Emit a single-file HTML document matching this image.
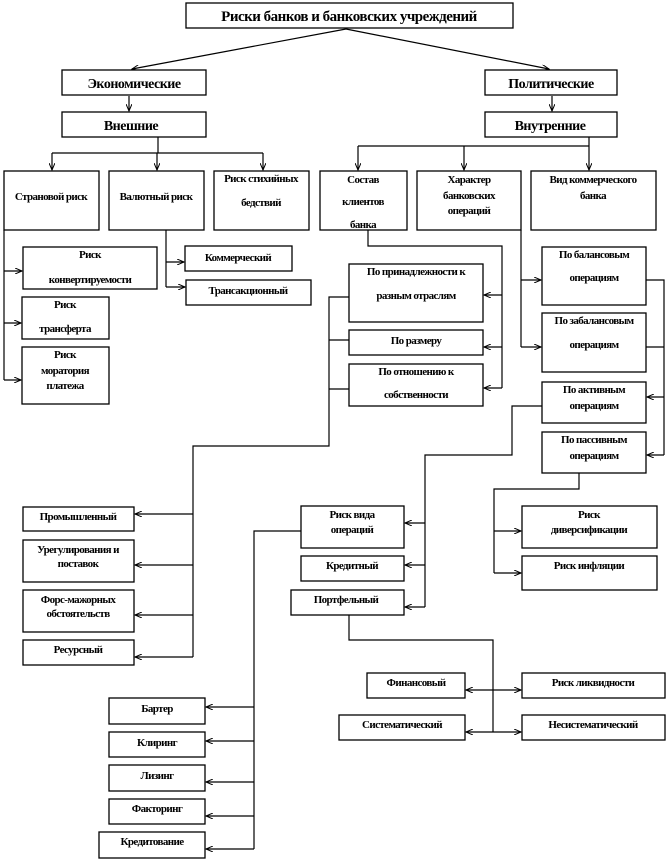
<!DOCTYPE html>
<html><head><meta charset="utf-8"><style>
html,body{margin:0;padding:0;background:#fff;}
svg{display:block}
text{font-family:"Liberation Serif","DejaVu Serif",serif;font-weight:bold;font-size:11px;fill:#000;text-anchor:middle;letter-spacing:-0.6px}
.b{font-size:14px;letter-spacing:-0.5px}
rect{fill:#fff;stroke:#000;stroke-width:1.3}
line,polyline{stroke:#000;stroke-width:1.2;fill:none}
</style></head><body>
<svg width="669" height="861" viewBox="0 0 669 861" xmlns="http://www.w3.org/2000/svg">
<defs><marker id="a" markerWidth="8" markerHeight="6" refX="7" refY="3" orient="auto" markerUnits="userSpaceOnUse"><path d="M0,0 L7,3 L0,6" fill="none" stroke="#000" stroke-width="1"/></marker></defs>

<!-- top -->
<rect x="186" y="3" width="327" height="25"/>
<text class="b" x="349" y="21" style="font-size:15px">Риски банков и банковских учреждений</text>
<line x1="346" y1="29" x2="132" y2="69" marker-end="url(#a)"/>
<line x1="346" y1="29" x2="549" y2="69" marker-end="url(#a)"/>
<rect x="62" y="70" width="144" height="25"/><text class="b" x="134" y="88">Экономические</text>
<rect x="485" y="70" width="132" height="25"/><text class="b" x="551" y="88">Политические</text>
<line x1="129" y1="96" x2="129" y2="111" marker-end="url(#a)"/>
<line x1="552" y1="96" x2="552" y2="111" marker-end="url(#a)"/>
<rect x="62" y="112" width="144" height="25"/><text class="b" x="131" y="130">Внешние</text>
<rect x="485" y="112" width="132" height="25"/><text class="b" x="550" y="130">Внутренние</text>

<!-- external branches -->
<polyline points="158,137 158,153"/>
<line x1="52" y1="153" x2="263" y2="153"/>
<line x1="52" y1="153" x2="52" y2="170" marker-end="url(#a)"/>
<line x1="157" y1="153" x2="157" y2="170" marker-end="url(#a)"/>
<line x1="263" y1="153" x2="263" y2="170" marker-end="url(#a)"/>
<rect x="4" y="171" width="95" height="59"/><text x="51" y="200">Страновой риск</text>
<rect x="109" y="171" width="95" height="59"/><text x="156" y="200">Валютный риск</text>
<rect x="214" y="171" width="95" height="59"/><text x="261" y="182">Риск стихийных</text><text x="261" y="206">бедствий</text>

<!-- internal branches -->
<polyline points="589,137 589,146"/>
<line x1="358" y1="146" x2="589" y2="146"/>
<line x1="358" y1="146" x2="358" y2="170" marker-end="url(#a)"/>
<line x1="464" y1="146" x2="464" y2="170" marker-end="url(#a)"/>
<line x1="589" y1="146" x2="589" y2="170" marker-end="url(#a)"/>
<rect x="320" y="171" width="87" height="59"/><text x="363" y="183">Состав</text><text x="363" y="205">клиентов</text><text x="363" y="228">банка</text>
<rect x="417" y="171" width="104" height="59"/><text x="469" y="183">Характер</text><text x="469" y="199">банковских</text><text x="469" y="214">операций</text>
<rect x="531" y="171" width="125" height="59"/><text x="593" y="183">Вид коммерческого</text><text x="593" y="199">банка</text>

<!-- Страновой children -->
<polyline points="4,230 4,380"/>
<line x1="4" y1="271" x2="22" y2="271" marker-end="url(#a)"/>
<line x1="4" y1="323" x2="21" y2="323" marker-end="url(#a)"/>
<line x1="4" y1="380" x2="21" y2="380" marker-end="url(#a)"/>
<rect x="23" y="247" width="134" height="42"/><text x="90" y="258">Риск</text><text x="90" y="283">конвертируемости</text>
<rect x="22" y="297" width="87" height="42"/><text x="65" y="308">Риск</text><text x="65" y="332">трансферта</text>
<rect x="22" y="347" width="87" height="57"/><text x="65" y="358">Риск</text><text x="65" y="374">моратория</text><text x="65" y="389">платежа</text>

<!-- Валютный children -->
<polyline points="166,230 166,287"/>
<line x1="166" y1="262" x2="184" y2="262" marker-end="url(#a)"/>
<line x1="166" y1="287" x2="185" y2="287" marker-end="url(#a)"/>
<rect x="185" y="246" width="107" height="25"/><text x="238" y="261">Коммерческий</text>
<rect x="186" y="280" width="125" height="25"/><text x="248" y="294">Трансакционный</text>

<!-- Состав children -->
<polyline points="368,230 368,246 502,246 502,388"/>
<line x1="502" y1="295" x2="484" y2="295" marker-end="url(#a)"/>
<line x1="502" y1="347" x2="484" y2="347" marker-end="url(#a)"/>
<line x1="502" y1="388" x2="484" y2="388" marker-end="url(#a)"/>
<rect x="349" y="264" width="134" height="58"/><text x="416" y="275">По принадлежности к</text><text x="416" y="299">разным отраслям</text>
<rect x="349" y="330" width="134" height="25"/><text x="416" y="344">По размеру</text>
<rect x="349" y="364" width="134" height="42"/><text x="416" y="375">По отношению к</text><text x="416" y="398">собственности</text>
<polyline points="349,297 329,297 329,446 193,446 193,657"/>
<line x1="329" y1="340" x2="349" y2="340"/>
<line x1="329" y1="389" x2="349" y2="389"/>
<line x1="193" y1="514" x2="135" y2="514" marker-end="url(#a)"/>
<line x1="193" y1="565" x2="135" y2="565" marker-end="url(#a)"/>
<line x1="193" y1="615" x2="135" y2="615" marker-end="url(#a)"/>
<line x1="193" y1="657" x2="135" y2="657" marker-end="url(#a)"/>
<rect x="23" y="507" width="111" height="24"/><text x="78" y="520">Промышленный</text>
<rect x="23" y="540" width="111" height="42"/><text x="78" y="553">Урегулирования и</text><text x="78" y="567">поставок</text>
<rect x="23" y="590" width="111" height="42"/><text x="78" y="603">Форс-мажорных</text><text x="78" y="617">обстоятельств</text>
<rect x="23" y="640" width="111" height="25"/><text x="78" y="653">Ресурсный</text>

<!-- Характер children -->
<polyline points="521,230 521,347"/>
<line x1="521" y1="280" x2="541" y2="280" marker-end="url(#a)"/>
<line x1="521" y1="347" x2="541" y2="347" marker-end="url(#a)"/>
<rect x="542" y="247" width="104" height="58"/><text x="594" y="258">По балансовым</text><text x="594" y="281">операциям</text>
<rect x="542" y="313" width="104" height="59"/><text x="594" y="324">По забалансовым</text><text x="594" y="348">операциям</text>
<polyline points="646,280 664,280 664,455"/>
<line x1="646" y1="347" x2="664" y2="347"/>
<line x1="664" y1="397" x2="647" y2="397" marker-end="url(#a)"/>
<line x1="664" y1="455" x2="647" y2="455" marker-end="url(#a)"/>
<rect x="542" y="382" width="104" height="41"/><text x="594" y="393">По активным</text><text x="594" y="409">операциям</text>
<rect x="542" y="432" width="104" height="41"/><text x="594" y="443">По пассивным</text><text x="594" y="459">операциям</text>

<!-- По активным -> left -->
<polyline points="542,406 512,406 512,455 425,455 425,607"/>
<line x1="425" y1="523" x2="405" y2="523" marker-end="url(#a)"/>
<line x1="425" y1="565" x2="405" y2="565" marker-end="url(#a)"/>
<line x1="425" y1="607" x2="405" y2="607" marker-end="url(#a)"/>
<rect x="301" y="506" width="103" height="42"/><text x="352" y="518">Риск вида</text><text x="352" y="533">операций</text>
<rect x="301" y="556" width="103" height="25"/><text x="352" y="569">Кредитный</text>
<rect x="291" y="590" width="113" height="25"/><text x="346" y="603">Портфельный</text>

<!-- Риск вида -> left -->
<polyline points="301,531 254,531 254,849"/>
<line x1="254" y1="707" x2="206" y2="707" marker-end="url(#a)"/>
<line x1="254" y1="741" x2="206" y2="741" marker-end="url(#a)"/>
<line x1="254" y1="782" x2="206" y2="782" marker-end="url(#a)"/>
<line x1="254" y1="816" x2="206" y2="816" marker-end="url(#a)"/>
<line x1="254" y1="849" x2="206" y2="849" marker-end="url(#a)"/>
<rect x="109" y="698" width="96" height="26"/><text x="157" y="712">Бартер</text>
<rect x="109" y="732" width="96" height="25"/><text x="157" y="746">Клиринг</text>
<rect x="109" y="765" width="96" height="26"/><text x="157" y="779">Лизинг</text>
<rect x="109" y="799" width="96" height="25"/><text x="157" y="812">Факторинг</text>
<rect x="99" y="832" width="106" height="26"/><text x="152" y="845">Кредитование</text>

<!-- По пассивным -> down -->
<polyline points="579,473 579,489 494,489 494,573"/>
<line x1="494" y1="531" x2="521" y2="531" marker-end="url(#a)"/>
<line x1="494" y1="573" x2="521" y2="573" marker-end="url(#a)"/>
<rect x="522" y="506" width="135" height="42"/><text x="589" y="518">Риск</text><text x="589" y="533">диверсификации</text>
<rect x="522" y="556" width="135" height="34"/><text x="589" y="569">Риск инфляции</text>

<!-- Портфельный -> down -->
<polyline points="349,615 349,640 493,640 493,732"/>
<line x1="493" y1="690" x2="466" y2="690" marker-end="url(#a)"/>
<line x1="493" y1="690" x2="521" y2="690" marker-end="url(#a)"/>
<line x1="493" y1="732" x2="466" y2="732" marker-end="url(#a)"/>
<line x1="493" y1="732" x2="521" y2="732" marker-end="url(#a)"/>
<rect x="367" y="673" width="98" height="25"/><text x="416" y="686">Финансовый</text>
<rect x="522" y="673" width="143" height="25"/><text x="593" y="686">Риск ликвидности</text>
<rect x="339" y="715" width="126" height="25"/><text x="402" y="728">Систематический</text>
<rect x="522" y="715" width="143" height="25"/><text x="593" y="728">Несистематический</text>
</svg>
</body></html>
